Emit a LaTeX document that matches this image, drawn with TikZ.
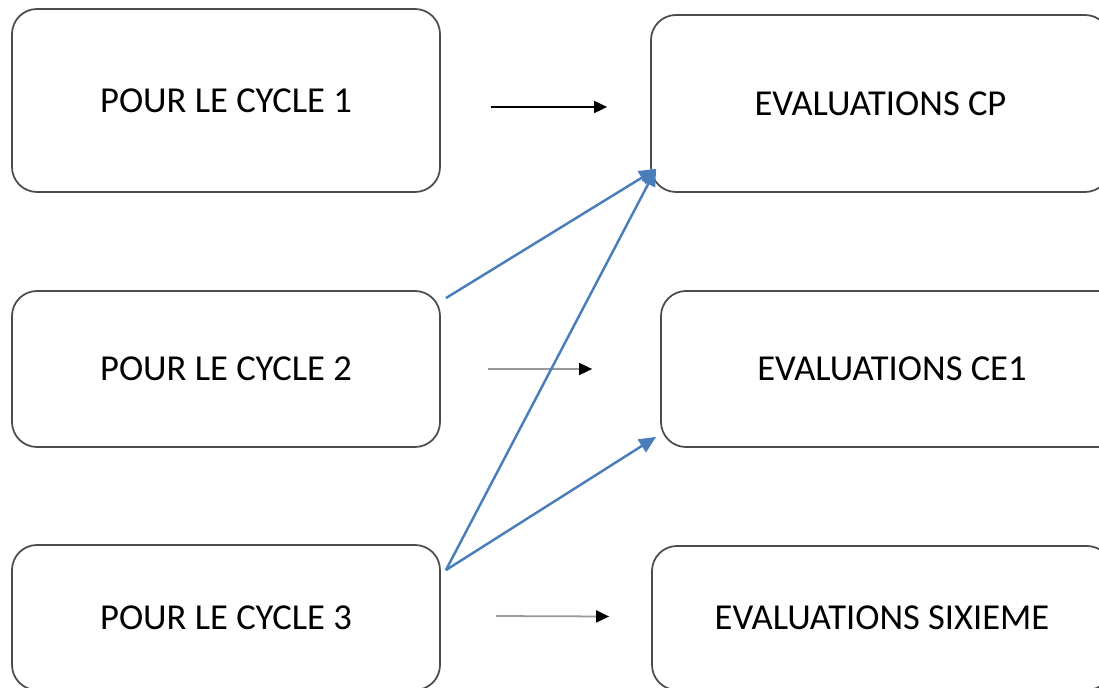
\documentclass[tikz,border=0pt]{standalone}
\usepackage{fontspec}
\setmainfont{Carlito}
\usetikzlibrary{arrows.meta}
\definecolor{linkblue}{RGB}{74,126,187}

\begin{document}
\begin{tikzpicture}[
    box/.style={draw=black!70, line width=1pt, rounded corners=0.5cm,
      inner sep=0pt, text centered, font=\fontsize{20.8}{25}\selectfont},
    plain/.style={line width=1pt,
      -{Triangle[length=0.26cm,width=0.24cm,color=black]}},
    link/.style={linkblue, line width=1.4pt,
      -{Triangle[length=0.34cm,width=0.3cm]}}]
        \useasboundingbox (0,0) rectangle (21.98,13.74);
        \clip (0,0) rectangle (21.98,13.74);
        % cycles
        \node[box, minimum width=8.56cm, minimum height=3.66cm] (c1) at (4.52,11.73) {POUR LE CYCLE 1};
        \node[box, minimum width=8.56cm, minimum height=3.12cm] (c2) at (4.52,6.36) {POUR LE CYCLE 2};
        \node[box, minimum width=8.56cm, minimum height=2.9cm] (c3) at (4.52,1.39) {POUR LE CYCLE 3};
        % evaluations
        \node[box, minimum width=9.18cm, minimum height=3.54cm] (cp) at (17.61,11.67) {EVALUATIONS CP};
        \node[box, minimum width=9.24cm, minimum height=3.12cm] (ce1) at (17.84,6.36) {EVALUATIONS CE1};
        \node[box, minimum width=9.2cm, minimum height=2.88cm] (six) at (17.64,1.38) {EVALUATIONS SIXIEME};
        % straight arrows
        \draw[plain, black] ([shift={(1.0,-0.13)}]c1.east) -- ([shift={(-0.86,-0.07)}]cp.west);
        \draw[plain, black!40] ([xshift=0.94cm]c2.east) -- ([xshift=-1.36cm]ce1.west);
        \draw[plain, black!40] ([shift={(1.1,0.03)}]c3.east) -- ([shift={(-0.84,0.03)}]six.west);
        % blue links
        \coordinate (s2) at ([shift={(0.1,-0.16)}]c2.north east);
        \coordinate (s3) at ([shift={(0.1,-0.52)}]c3.north east);
        \draw[link] (s2) -- ([shift={(0.12,0.48)}]cp.south west);
        \draw[link] (s3) -- ([shift={(0.12,0.48)}]cp.south west);
        \draw[link] (s3) -- ([shift={(-0.08,0.22)}]ce1.south west);
\end{tikzpicture}
\end{document}
